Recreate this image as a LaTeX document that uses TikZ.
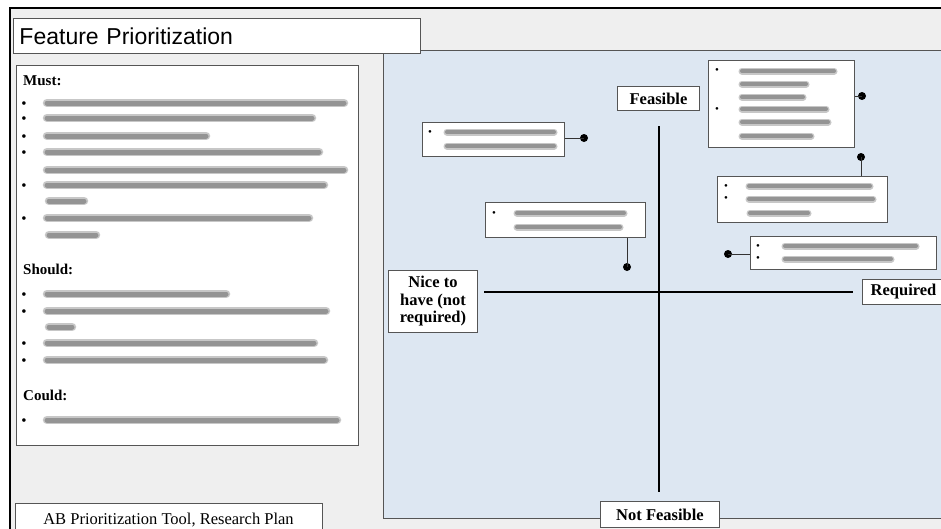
\documentclass[tikz,border=0pt]{standalone}
\usepackage{fontspec}
\setmainfont{Liberation Serif}
\newfontfamily\titlefont{Liberation Sans}
\definecolor{bgc}{HTML}{EFEFEF}
\definecolor{panelc}{HTML}{DDE7F2}
\definecolor{edgec}{HTML}{555555}
\begin{document}
\begin{tikzpicture}[x=1pt,y=-1pt,
  box/.style={draw=edgec, fill=white, line width=1pt, inner sep=0pt, anchor=north west},
  lab/.style={font=\fontsize{16.5}{17.5}\selectfont\bfseries, align=center},
  head/.style={font=\fontsize{15}{15}\selectfont\bfseries, anchor=base west, inner sep=0pt},
  bar/.style={line cap=round, line width=8.5pt, draw=black!22, postaction={draw=black!42, line width=5pt}},
  sbar/.style={line cap=round, line width=7pt, draw=black!22, postaction={draw=black!42, line width=4pt}},
  bul/.style={font=\fontsize{15}{15}\selectfont, inner sep=0pt, yshift=-2pt},
  sbul/.style={font=\fontsize{11}{11}\selectfont, inner sep=0pt, yshift=-1.5pt},
  dot/.style={circle, fill=black, inner sep=0pt, minimum size=8pt},
  conn/.style={line width=1pt, black!80},
  axis/.style={line width=1.6pt, black}]

\useasboundingbox (0,0) rectangle (941,528);
\clip (0,0) rectangle (941,528);
\fill[white] (0,0) rectangle (941,528);
\draw[fill=bgc, line width=2.5pt] (10,8) rectangle (980,580);

% blue panel
\node[box, fill=panelc, minimum width=600, minimum height=468] (panel) at (383,50) {};

% title
\node[box, minimum width=407, minimum height=35, text width=395pt, align=left,
      font=\titlefont\fontsize{23}{23}\selectfont, inner xsep=6pt] (title) at (13,18) {Feature Prioritization};

% left list
\node[box, minimum width=342, minimum height=380] (list) at (16,65) {};
\node[head] (must) at (23,85) {Must:};
\node[head] (should) at (23,274) {Should:};
\node[head] (could) at (23,400) {Could:};

\foreach \y in {103,118,136,152,185,218,294,311,343,360,420}
  \node[bul] at (24,\y) {\textbullet};

\draw[bar] (47,103) -- (344,103);
\draw[bar] (47,118) -- (312,118);
\draw[bar] (47,136) -- (206,136);
\draw[bar] (47,152) -- (319,152);
\draw[bar] (47,170) -- (344,170);
\draw[bar] (47,185) -- (324,185);
\draw[bar] (49,201) -- (84,201);
\draw[bar] (47,218) -- (309,218);
\draw[bar] (49,235) -- (96,235);
\draw[bar] (47,294) -- (226,294);
\draw[bar] (47,311) -- (326,311);
\draw[bar] (49,327) -- (72,327);
\draw[bar] (47,343) -- (314,343);
\draw[bar] (47,360) -- (324,360);
\draw[bar] (47,420) -- (337,420);

% footer
\node[box, minimum width=307, minimum height=40] (ab) at (15,503) {};
\node[font=\fontsize{16.5}{16.5}\selectfont, anchor=base, inner sep=0pt] (abtext) at (168.5,524) {AB Prioritization Tool, Research Plan};

% axis labels
\node[box, lab, minimum width=82, minimum height=24] (feas) at (617,86) {Feasible};
\node[box, lab, minimum width=89, minimum height=62] (nice) at (388,270) {Nice to\\have (not\\required)};
\node[box, lab, minimum width=82, minimum height=25] (req) at (862,279) {Required};
\node[box, lab, minimum width=119, minimum height=26] (notf) at (600,501) {Not Feasible};

% axes
\coordinate (vtop) at (659,126);
\coordinate (vbot) at (659,492);
\coordinate (hl) at (484,292);
\coordinate (hr) at (853,292);
\draw[axis] (vtop) -- (vbot);
\draw[axis] (hl) -- (hr);

% item boxes
\node[box, minimum width=142, minimum height=34] (A) at (422,122) {};
\node[box, minimum width=160, minimum height=35] (B) at (485,202) {};
\node[box, minimum width=146, minimum height=87] (C) at (708,60) {};
\node[box, minimum width=170, minimum height=46] (D) at (717,176) {};
\node[box, minimum width=186, minimum height=33] (E) at (750,236) {};

% box A
\node[sbul] at (430,132) {\textbullet};
\draw[sbar] (447,132) -- (554,132);
\draw[sbar] (447,146) -- (554,146);
% box B
\node[sbul] at (494,213) {\textbullet};
\draw[sbar] (517,213) -- (624,213);
\draw[sbar] (517,227) -- (620,227);
% box C
\node[sbul] at (717,70) {\textbullet};
\node[sbul] at (717,109) {\textbullet};
\draw[sbar] (742,71) -- (834,71);
\draw[sbar] (742,84) -- (806,84);
\draw[sbar] (742,97) -- (803,97);
\draw[sbar] (742,109) -- (826,109);
\draw[sbar] (742,122) -- (828,122);
\draw[sbar] (742,136) -- (811,136);
% box D
\node[sbul] at (726,186) {\textbullet};
\node[sbul] at (726,198) {\textbullet};
\draw[sbar] (749,186) -- (870,186);
\draw[sbar] (749,199) -- (873,199);
\draw[sbar] (750,213) -- (808,213);
% box E
\node[sbul] at (758,246) {\textbullet};
\node[sbul] at (758,258) {\textbullet};
\draw[sbar] (785,246) -- (916,246);
\draw[sbar] (785,259) -- (891,259);

% connectors with dots
\node[dot] (dA) at (584,138) {};
\node[dot] (dB) at (627,267) {};
\node[dot] (dC) at (862,96) {};
\node[dot] (dD) at (861,157) {};
\node[dot] (dE) at (728,254) {};
\draw[conn] (dA.center) -- (dA.center -| A.east);
\draw[conn] (dB.center) -- (dB.center |- B.south);
\draw[conn] (dC.center) -- (dC.center -| C.east);
\draw[conn] (dD.center) -- (dD.center |- D.north);
\draw[conn] (dE.center) -- (dE.center -| E.west);
\end{tikzpicture}
\end{document}
